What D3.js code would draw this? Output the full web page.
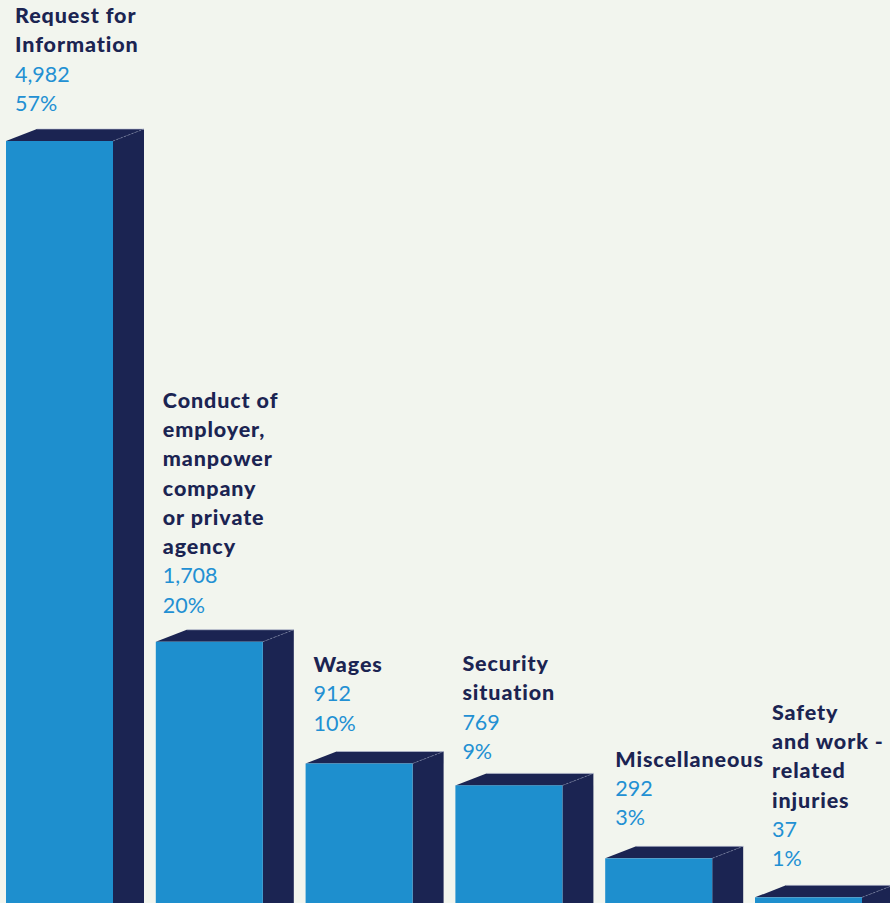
<!DOCTYPE html>
<html><head><meta charset="utf-8">
<script src="https://cdn.jsdelivr.net/npm/d3@7"></script>
<style>
html,body{margin:0;padding:0;background:#f2f5ee;overflow:hidden;}
svg{display:block;}
</style></head>
<body><div id="chart"></div>
<script>
const categories = ["Request for Information","Conduct of employer, manpower company or private agency","Wages","Security situation","Miscellaneous","Safety and work - related injuries"];
const labelLines = [["Request for","Information"],["Conduct of","employer,","manpower","company","or private","agency"],["Wages"],["Security","situation"],["Miscellaneous"],["Safety","and work -","related","injuries"]];
const values = [4982,1708,912,769,292,37];
const valueLabels = ["4,982","1,708","912","769","292","37"];
const percents = ["57%","20%","10%","9%","3%","1%"];

const W = 890, H = 903;
const front = "#1e8fce", dark = "#1b2452", textBlue = "#2290d3", bg = "#f2f5ee";
const depthX = 31, depthY = 12;

const svg = d3.select("#chart").append("svg").attr("width", W).attr("height", H);
svg.append("rect").attr("width", W).attr("height", H).attr("fill", bg);

const x = d3.scaleBand().domain(categories).range([6, 862]).paddingInner(0.2857).paddingOuter(0);
const y = d3.scaleLinear().domain([0, d3.max(values)]).range([H, 141]);

const data = categories.map((c,i)=>({c, v:values[i], lines:labelLines[i], vl:valueLabels[i], p:percents[i], i}));

const g = svg.selectAll("g.bar").data(data).enter().append("g").attr("class","bar");
const bw = x.bandwidth();

// side face
g.append("path").attr("fill", dark).attr("d", d => {
  const x0 = x(d.c) + bw, t = y(d.v), b = y(0) + 20;
  return `M${x0},${t} L${x0+depthX},${t-depthY} L${x0+depthX},${b-depthY} L${x0},${b} Z`;
});
// top face
g.append("path").attr("fill", dark).attr("d", d => {
  const x0 = x(d.c), t = y(d.v);
  return `M${x0},${t} L${x0+depthX},${t-depthY} L${x0+bw+depthX},${t-depthY} L${x0+bw},${t} Z`;
});
// highlight edges
g.append("path").attr("fill","none").attr("stroke","#8a93b5").attr("stroke-width",0.8).attr("stroke-dasharray","2,2").attr("opacity",0.7)
  .attr("d", d => {
    const x0 = x(d.c), t = y(d.v);
    return `M${x0+bw},${t} L${x0+bw+depthX},${t-depthY}`;
  });
g.append("path").attr("fill","none").attr("stroke","#b9bfd3").attr("stroke-width",0.8).attr("opacity",0.8)
  .attr("d", d => {
    const x0 = x(d.c), t = y(d.v);
    return `M${x0+depthX},${t-depthY} L${x0+bw+depthX},${t-depthY}`;
  });
// front face
g.append("rect").attr("fill", front)
  .attr("x", d => x(d.c)).attr("y", d => y(d.v))
  .attr("width", bw).attr("height", d => y(0) - y(d.v) + 2);

// labels
const lh = 29.3;
const labelDx = [9, 7, 8, 7, 10, 17];
const labelGap = [30, 29, 33, 26.5, 33, 31];
g.each(function(d){
  const lines = d.lines.length;
  const total = lines + 2;
  const baseLast = y(d.v) - labelGap[d.i];
  const tx = x(d.c) + labelDx[d.i];
  const sel = d3.select(this);
  d.lines.forEach((ln, k) => {
    sel.append("text").attr("x", tx).attr("y", baseLast - (total-1-k)*lh)
      .attr("font-family","Lato, 'Open Sans', sans-serif").attr("font-weight",900)
      .attr("letter-spacing", 0.9)
      .attr("font-size", 21.5).attr("fill", dark).text(ln);
  });
  sel.append("text").attr("x", tx).attr("y", baseLast - lh)
    .attr("font-family","Lato, sans-serif").attr("font-weight",400)
    .attr("font-size", 21.5).attr("fill", textBlue).text(d.vl);
  sel.append("text").attr("x", tx).attr("y", baseLast)
    .attr("font-family","Lato, sans-serif").attr("font-weight",400)
    .attr("font-size", 21.5).attr("fill", textBlue).text(d.p);
});
</script></body></html>
